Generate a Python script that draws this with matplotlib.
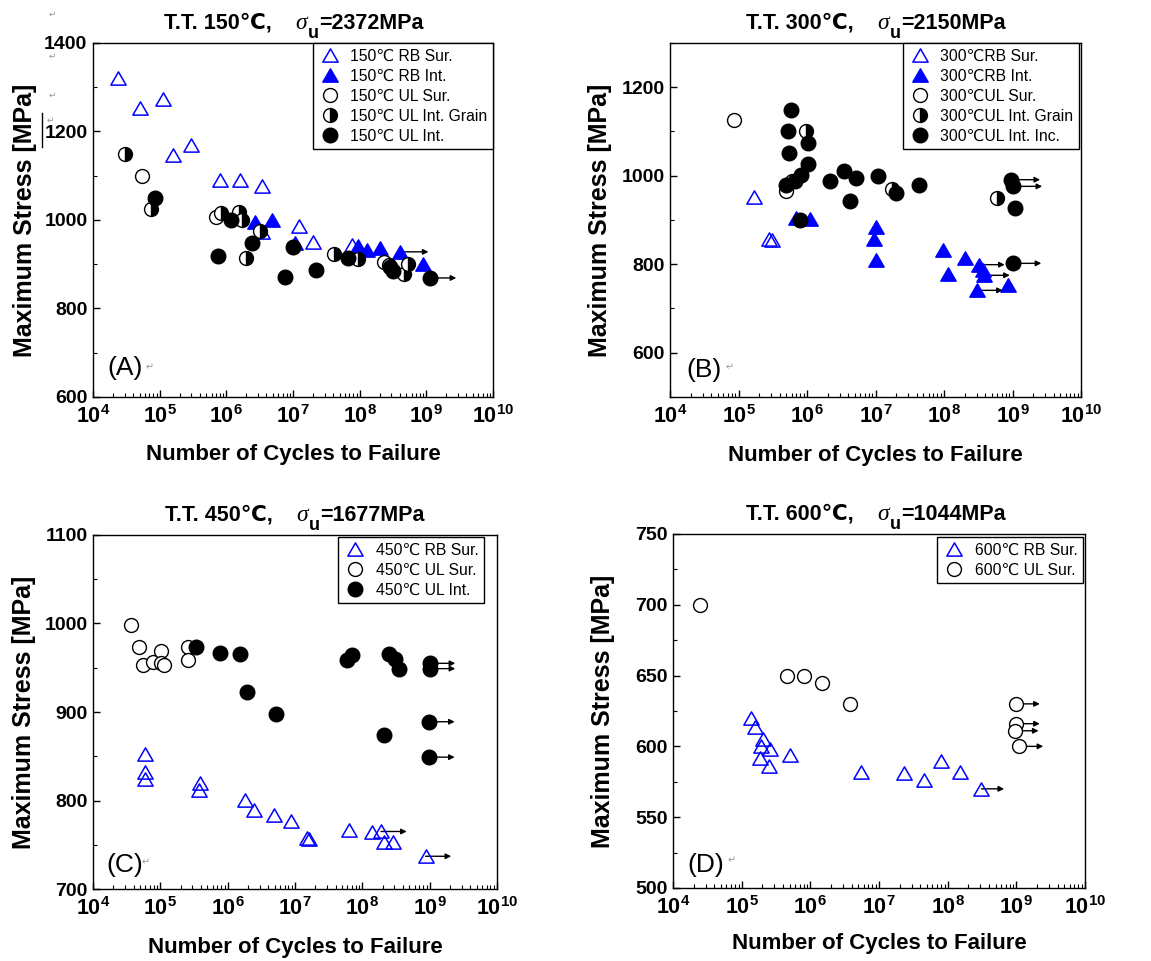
import math
import matplotlib
matplotlib.use('Agg')
import matplotlib.pyplot as plt
from matplotlib.path import Path
from matplotlib.lines import Line2D
from matplotlib.ticker import MultipleLocator, LogLocator, FuncFormatter, NullFormatter

plt.rcParams['font.family'] = ['Liberation Sans', 'DejaVu Sans']
plt.rcParams['font.weight'] = 'bold'
plt.rcParams['mathtext.fontset'] = 'custom'
plt.rcParams['mathtext.rm'] = 'Liberation Sans'
plt.rcParams['mathtext.bf'] = 'Liberation Sans:bold'
plt.rcParams['mathtext.it'] = 'Liberation Sans:italic'

# ---- (A) 150C ----
a_rb_sur_n = [2.4e4, 5.0e4, 1.12e5, 1.6e5, 3.0e5, 7.9e5, 1.62e6, 3.4e6, 3.4e6, 1.23e7, 2.0e7, 7.6e7]
a_rb_sur_s = [1320, 1253, 1273, 1147, 1170, 1090, 1090, 1077, 973, 986, 951, 943]
a_rb_int_n = [2.7e6, 4.8e6, 1.07e7, 9.5e7, 1.28e8, 2.0e8, 4.0e8, 8.9e8]
a_rb_int_s = [995, 1000, 947, 942, 932, 936, 928, 900]
a_rb_int_run = [6]
a_ul_sur_n = [5.5e4, 7.1e5, 2.3e8]
a_ul_sur_s = [1100, 1007, 904]
a_ul_grain_n = [3.0e4, 7.4e4, 8.3e5, 1.55e6, 1.73e6, 1.95e6, 3.2e6, 4.1e7, 9.3e7, 2.8e8, 4.7e8, 5.4e8]
a_ul_grain_s = [1150, 1025, 1015, 1019, 1000, 915, 975, 923, 911, 898, 879, 900]
a_ul_int_n = [8.5e4, 7.6e5, 1.18e6, 2.4e6, 7.6e6, 1.0e7, 2.2e7, 6.8e7, 2.9e8, 3.2e8, 1.12e9]
a_ul_int_s = [1049, 918, 1000, 949, 872, 940, 887, 913, 894, 885, 869]
a_ul_int_run = [10]

# ---- (B) 300C ----
b_rb_sur_n = [1.7e5, 2.8e5, 3.1e5]
b_rb_sur_s = [953, 856, 854]
b_rb_int_n = [6.9e5, 1.09e6, 1.0e7, 9.6e6, 1.0e7, 9.6e7, 1.14e8, 2.0e8, 3.2e8, 3.7e8, 3.8e8, 3.0e8, 8.7e8]
b_rb_int_s = [904, 902, 883, 856, 809, 832, 778, 813, 799, 788, 775, 741, 753]
b_rb_int_run = [8, 10, 11]
b_ul_sur_n = [8.7e4, 5.0e5, 6.0e5]
b_ul_sur_s = [1125, 965, 987]
b_ul_grain_n = [9.8e5, 1.74e7, 5.9e8]
b_ul_grain_s = [1100, 970, 949]
b_ul_inc_n = [5.8e5, 5.2e5, 5.5e5, 4.9e5, 6.7e5, 8.1e5, 1.05e6, 1.05e6, 7.9e5, 2.2e6,
              3.5e6, 4.3e6, 5.2e6, 1.07e7, 2.0e7, 4.3e7, 9.6e8, 1.03e9, 1.1e9, 1.0e9]
b_ul_inc_s = [1148, 1102, 1051, 979, 987, 1002, 1075, 1026, 900, 987,
              1010, 942, 994, 1000, 960, 979, 991, 976, 926, 802]
b_ul_inc_run = [16, 17, 19]

# ---- (C) 450C ----
c_rb_sur_n = [5.9e4, 5.9e4, 5.9e4, 3.9e5, 3.7e5, 1.8e6, 2.5e6, 4.8e6, 8.8e6, 1.5e7, 1.6e7,
              6.4e7, 1.4e8, 1.9e8, 2.1e8, 2.9e8, 8.7e8]
c_rb_sur_s = [853, 832, 824, 820, 812, 801, 789, 784, 777, 758, 757,
              767, 764, 765, 753, 753, 737]
c_rb_sur_run = [13, 16]
c_ul_sur_n = [3.7e4, 4.9e4, 5.5e4, 7.8e4, 1.03e5, 1.03e5, 1.12e5, 2.6e5, 2.6e5]
c_ul_sur_s = [998, 973, 953, 957, 969, 955, 953, 974, 959]
c_ul_int_n = [3.4e5, 7.8e5, 1.55e6, 1.95e6, 5.3e6, 5.9e7, 7.0e7, 2.5e8, 3.1e8, 3.55e8, 2.1e8,
              1.0e9, 1.0e9, 9.8e8, 9.8e8]
c_ul_int_s = [974, 967, 965, 923, 898, 959, 964, 965, 960, 949, 874,
              955, 949, 889, 849]
c_ul_int_run = [11, 12, 13, 14]

# ---- (D) 600C ----
d_rb_sur_n = [1.36e5, 1.58e5, 2.05e5, 1.94e5, 1.87e5, 2.6e5, 2.5e5, 5.1e5, 5.5e6, 2.3e7, 4.5e7,
              8.0e7, 1.5e8, 3.1e8]
d_rb_sur_s = [620, 614, 605, 600, 592, 598, 586, 594, 582, 581, 576, 590, 582, 570]
d_rb_sur_run = [13]
d_ul_sur_n = [2.44e4, 4.6e5, 8.0e5, 1.5e6, 3.8e6, 9.8e8, 9.8e8, 9.4e8, 1.1e9]
d_ul_sur_s = [700, 650, 650, 645, 630, 630, 616, 611, 600]
d_ul_sur_run = [5, 6, 7, 8]

BLUE = '#0000ff'
TRI = Path([(0, 0.866), (-1, -0.866), (1, -0.866), (0, 0)], closed=True)
SANS = ['Liberation Sans', 'DejaVu Sans']


def style_open_tri(ax, n, s, label):
    return ax.plot(n, s, ls='none', marker=TRI, ms=11, mfc='none', mec=BLUE, mew=1.1,
                   label=label, zorder=2)[0]


def style_full_tri(ax, n, s, label):
    return ax.plot(n, s, ls='none', marker=TRI, ms=11, mfc=BLUE, mec=BLUE, mew=1.1,
                   label=label, zorder=2)[0]


def style_open_circ(ax, n, s, label):
    return ax.plot(n, s, ls='none', marker='o', ms=10, mfc='white', mec='black', mew=1.0,
                   label=label, zorder=2)[0]


def style_half_circ(ax, n, s, label):
    return ax.plot(n, s, ls='none', marker='o', ms=10, fillstyle='right', mfc='black',
                   markerfacecoloralt='white', mec='black', mew=1.0, label=label, zorder=2)[0]


def style_full_circ(ax, n, s, label):
    return ax.plot(n, s, ls='none', marker='o', ms=10.5, mfc='black', mec='black', mew=1.0,
                   label=label, zorder=2)[0]


def runout(ax, n, s, idx, dec=0.4):
    for i in idx:
        ax.annotate('', xy=(n[i] * 10 ** dec, s[i]), xytext=(n[i], s[i]),
                    arrowprops=dict(arrowstyle='-|>', color='black', lw=1.0,
                                    mutation_scale=8, shrinkA=0, shrinkB=0),
                    zorder=1.5)


def setup(ax, ylim, major, minor):
    ax.set_xscale('log')
    ax.set_xlim(1e4, 1e10)
    ax.set_ylim(*ylim)
    ax.xaxis.set_major_locator(LogLocator(base=10, numticks=12))
    ax.xaxis.set_minor_locator(LogLocator(base=10, subs=range(2, 10), numticks=12))
    ax.xaxis.set_major_formatter(FuncFormatter(lambda v, p: r'$\mathbf{10^{%d}}$' % round(math.log10(v))))
    ax.xaxis.set_minor_formatter(NullFormatter())
    ax.yaxis.set_major_locator(MultipleLocator(major))
    ax.yaxis.set_minor_locator(MultipleLocator(minor))
    ax.tick_params(which='both', direction='in', top=False, right=False)
    ax.tick_params(axis='y', labelsize=14, pad=4)
    ax.tick_params(axis='x', labelsize=15.5, pad=6)
    ax.tick_params(which='major', length=5, width=1.0)
    ax.tick_params(which='minor', length=3, width=0.8)
    for sp in ax.spines.values():
        sp.set_linewidth(1.0)
    ax.set_ylabel('Maximum Stress [MPa]', fontsize=18, fontweight='bold')
    ax.set_xlabel('Number of Cycles to Failure', fontsize=16, fontweight='bold')
    ax.yaxis.set_label_coords(-0.14, 0.5)
    ax.xaxis.set_label_coords(0.5, -0.135)


def title(ax, temp, su, xs=0.515):
    sig = ax.text(xs, 1.04, 'σ', transform=ax.transAxes, ha='center', va='baseline',
                  fontsize=17, fontstyle='italic', fontweight='normal',
                  family=['Liberation Serif', 'DejaVu Serif'])
    ax.annotate('T.T. %s℃,' % temp, xy=(0, 0), xycoords=sig, xytext=(-17, 0),
                textcoords='offset points', ha='right', va='bottom', fontsize=15.5,
                fontweight='bold', family=SANS)
    sub = ax.annotate('u', xy=(1, 0), xycoords=sig, xytext=(0.5, -6),
                      textcoords='offset points', ha='left', va='bottom', fontsize=13,
                      fontweight='bold', family=SANS)
    ax.annotate('=%sMPa' % su, xy=(1, 0), xycoords=sub, xytext=(0.3, 6),
                textcoords='offset points', ha='left', va='bottom', fontsize=15.5,
                fontweight='bold', family=SANS)


def legend(ax, handles, anchor):
    lg = ax.legend(handles=handles, loc='upper right', bbox_to_anchor=anchor, borderaxespad=0,
                   fancybox=False, edgecolor='black', framealpha=1,
                   prop=dict(size=11.3, weight='normal', family=SANS),
                   labelspacing=0.32, handletextpad=0.55, borderpad=0.35, handlelength=1.5)
    lg.get_frame().set_linewidth(1.0)


def panel_tag(ax, tag, x, y, rx, ry):
    ax.text(x, y, tag, transform=ax.transAxes, fontsize=19, fontweight='normal',
            ha='left', va='baseline')
    ax.text(rx, ry, '↵', transform=ax.transAxes, fontsize=7, color='#999999',
            fontweight='normal', family=['DejaVu Sans'], ha='center', va='center')


fig = plt.figure(figsize=(11.51, 9.61), dpi=100)
axA = fig.add_axes([0.0808, 0.5869, 0.3475, 0.3684])
axB = fig.add_axes([0.5821, 0.5869, 0.3571, 0.3684])
axC = fig.add_axes([0.0808, 0.0749, 0.3510, 0.3684])
axD = fig.add_axes([0.5847, 0.0760, 0.3580, 0.3684])

# (A)
setup(axA, (600, 1400), 200, 100)
h = [style_open_tri(axA, a_rb_sur_n, a_rb_sur_s, '150℃ RB Sur.'),
     style_full_tri(axA, a_rb_int_n, a_rb_int_s, '150℃ RB Int.'),
     style_open_circ(axA, a_ul_sur_n, a_ul_sur_s, '150℃ UL Sur.'),
     style_half_circ(axA, a_ul_grain_n, a_ul_grain_s, '150℃ UL Int. Grain'),
     style_full_circ(axA, a_ul_int_n, a_ul_int_s, '150℃ UL Int.')]
runout(axA, a_rb_int_n, a_rb_int_s, a_rb_int_run, 0.43)
runout(axA, a_ul_int_n, a_ul_int_s, a_ul_int_run, 0.4)
legend(axA, h, (1.0, 1.0))
title(axA, '150', '2372', 0.52)
panel_tag(axA, '(A)', 0.035, 0.062, 0.1425, 0.085)
axA.xaxis.set_label_coords(0.5, -0.133)

# (B)
setup(axB, (500, 1300), 200, 100)
h = [style_open_tri(axB, b_rb_sur_n, b_rb_sur_s, '300℃RB Sur.'),
     style_full_tri(axB, b_rb_int_n, b_rb_int_s, '300℃RB Int.'),
     style_open_circ(axB, b_ul_sur_n, b_ul_sur_s, '300℃UL Sur.'),
     style_half_circ(axB, b_ul_grain_n, b_ul_grain_s, '300℃UL Int. Grain'),
     style_full_circ(axB, b_ul_inc_n, b_ul_inc_s, '300℃UL Int. Inc.')]
runout(axB, b_rb_int_n, b_rb_int_s, b_rb_int_run, 0.38)
runout(axB, b_ul_inc_n, b_ul_inc_s, b_ul_inc_run, 0.42)
legend(axB, h, (0.995, 1.0))
title(axB, '300', '2150', 0.518)
panel_tag(axB, '(B)', 0.041, 0.056, 0.146, 0.085)

# (C)
setup(axC, (700, 1100), 100, 50)
h = [style_open_tri(axC, c_rb_sur_n, c_rb_sur_s, '450℃ RB Sur.'),
     style_open_circ(axC, c_ul_sur_n, c_ul_sur_s, '450℃ UL Sur.'),
     style_full_circ(axC, c_ul_int_n, c_ul_int_s, '450℃ UL Int.')]
runout(axC, c_rb_sur_n, c_rb_sur_s, c_rb_sur_run, 0.38)
runout(axC, c_ul_int_n, c_ul_int_s, c_ul_int_run, 0.38)
legend(axC, h, (0.968, 0.994))
title(axC, '450', '1677', 0.517)
panel_tag(axC, '(C)', 0.032, 0.049, 0.129, 0.076)

# (D)
setup(axD, (500, 750), 50, 25)
h = [style_open_tri(axD, d_rb_sur_n, d_rb_sur_s, '600℃ RB Sur.'),
     style_open_circ(axD, d_ul_sur_n, d_ul_sur_s, '600℃ UL Sur.')]
runout(axD, d_rb_sur_n, d_rb_sur_s, d_rb_sur_run, 0.33)
runout(axD, d_ul_sur_n, d_ul_sur_s, d_ul_sur_run, 0.35)
legend(axD, h, (0.995, 0.99))
title(axD, '600', '1044', 0.51)
panel_tag(axD, '(D)', 0.034, 0.046, 0.141, 0.079)
axD.xaxis.set_label_coords(0.5, -0.128)

# stray paragraph marks left of panel A
for xx, yy in ((52, 14), (52, 56), (52, 95), (50, 120)):
    fig.text(xx / 1151, 1 - yy / 961, '↵', fontsize=6.5, color='#999999', fontweight='normal',
             family=['DejaVu Sans'], ha='center', va='center')
fig.add_artist(Line2D([42 / 1151, 42 / 1151], [1 - 113 / 961, 1 - 147 / 961], color='black', lw=1.0))

fig.savefig('out.png', dpi=100)
